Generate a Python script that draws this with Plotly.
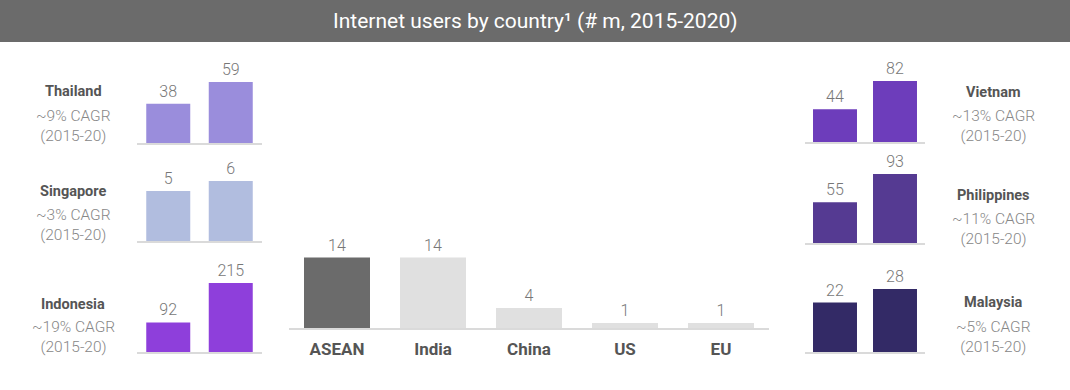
import plotly.graph_objects as go

W, H = 1070, 390

title_text = "Internet users by country¹ (# m, 2015-2020)"
years = ["2015", "2020"]

left_countries = ["Thailand", "Singapore", "Indonesia"]
left_2015 = [38, 5, 92]
left_2020 = [59, 6, 215]
left_cagr = ["~9% CAGR", "~3% CAGR", "~19% CAGR"]

right_countries = ["Vietnam", "Philippines", "Malaysia"]
right_2015 = [44, 55, 22]
right_2020 = [82, 93, 28]
right_cagr = ["~13% CAGR", "~11% CAGR", "~5% CAGR"]

period_label = "(2015-20)"

regions = ["ASEAN", "India", "China", "US", "EU"]
region_values = [14, 14, 4, 1, 1]

# ---- styling / layout constants ----
FONT = "Roboto"
left_colors = ["#9a8ddc", "#b1bddf", "#8e3fdb"]
right_colors = ["#6d3dbb", "#553a92", "#332a66"]
region_colors = ["#6b6b6b", "#e0e0e0", "#e0e0e0", "#e0e0e0", "#e0e0e0"]
line_color = "#dadada"
value_color = "#777777"
name_color = "#555555"
sub_color = "#878787"

left_x = (137, 262)
left_base = [143, 241, 352]
left_hmax = [61, 60, 69]
left_name_y = [91.7, 191.7, 304]
left_sub_y = [126, 225, 337]
left_text_x = 73

right_x = (805, 925)
right_base = [142, 243, 352]
right_hmax = [61, 69, 63]
right_name_y = [92.7, 195, 302]
right_sub_y = [126, 228.5, 337]
right_text_x = 993

center_x = (289, 769)
center_base = 328
center_hmax = 70.4

PANEL_H = 95


def fx(p):
    return p / W


def fy(p):
    return 1 - p / H


fig = go.Figure()
layout_axes = {}
annotations = []
k = 0


def add_panel(xs, vals, colors, xr, base, hmax, width, show_ticks):
    global k
    k += 1
    xa = "x" if k == 1 else f"x{k}"
    ya = "y" if k == 1 else f"y{k}"
    xkey = "xaxis" if k == 1 else f"xaxis{k}"
    ykey = "yaxis" if k == 1 else f"yaxis{k}"
    fig.add_trace(go.Bar(
        x=xs, y=vals, xaxis=xa, yaxis=ya,
        marker=dict(color=colors, line=dict(width=0)),
        width=width,
        text=[str(v) for v in vals], textposition="outside",
        textfont=dict(family=FONT, size=16, color=value_color, weight=300),
        cliponaxis=False, showlegend=False, hoverinfo="skip",
    ))
    layout_axes[xkey] = dict(
        domain=[fx(xr[0]), fx(xr[1])], anchor=ya, type="category",
        range=[-0.5, len(xs) - 0.5], showline=True, linecolor=line_color,
        linewidth=1.5, showgrid=False, zeroline=False, ticks="",
        showticklabels=show_ticks, ticklabelstandoff=5,
        tickfont=dict(family=FONT, size=17, color=name_color, weight="bold"),
        fixedrange=True,
    )
    layout_axes[ykey] = dict(
        domain=[fy(base), fy(base - PANEL_H)], anchor=xa,
        range=[0, max(vals) * PANEL_H / hmax], visible=False,
        showgrid=False, zeroline=False, fixedrange=True,
    )


def add_texts(name, cagr, x, name_y, sub_y):
    annotations.append(dict(
        x=fx(x), y=fy(name_y), xref="paper", yref="paper",
        text=f"<b>{name}</b>", showarrow=False,
        xanchor="center", yanchor="middle",
        font=dict(family=FONT, size=14.5, color=name_color)))
    annotations.append(dict(
        x=fx(x), y=fy(sub_y), xref="paper", yref="paper",
        text=f"{cagr}<br>{period_label}", showarrow=False,
        xanchor="center", yanchor="middle", align="center",
        font=dict(family=FONT, size=15.5, color=sub_color, weight=300)))


for i, c in enumerate(left_countries):
    add_panel(years, [left_2015[i], left_2020[i]], left_colors[i], left_x,
              left_base[i], left_hmax[i], 0.704, False)
    add_texts(c, left_cagr[i], left_text_x, left_name_y[i], left_sub_y[i])

for i, c in enumerate(right_countries):
    add_panel(years, [right_2015[i], right_2020[i]], right_colors[i], right_x,
              right_base[i], right_hmax[i], 0.733, False)
    add_texts(c, right_cagr[i], right_text_x, right_name_y[i], right_sub_y[i])

add_panel(regions, region_values, region_colors, center_x, center_base,
          center_hmax, 0.6875, True)

# title bar
annotations.append(dict(
    x=0.5, y=fy(21), xref="paper", yref="paper", text=title_text,
    showarrow=False, xanchor="center", yanchor="middle",
    font=dict(family=FONT, size=21, color="white")))

fig.update_layout(
    width=W, height=H, margin=dict(l=0, r=0, t=0, b=0),
    paper_bgcolor="white", plot_bgcolor="rgba(0,0,0,0)",
    font=dict(family=FONT),
    shapes=[dict(type="rect", xref="paper", yref="paper", x0=0, x1=1,
                 y0=fy(42), y1=1, fillcolor="#6b6b6b", line=dict(width=0),
                 layer="below")],
    annotations=annotations,
    **layout_axes,
)

fig.write_html("out.html",
               config={"displayModeBar": False, "staticPlot": True},
               post_script="document.body.style.margin='0';")
